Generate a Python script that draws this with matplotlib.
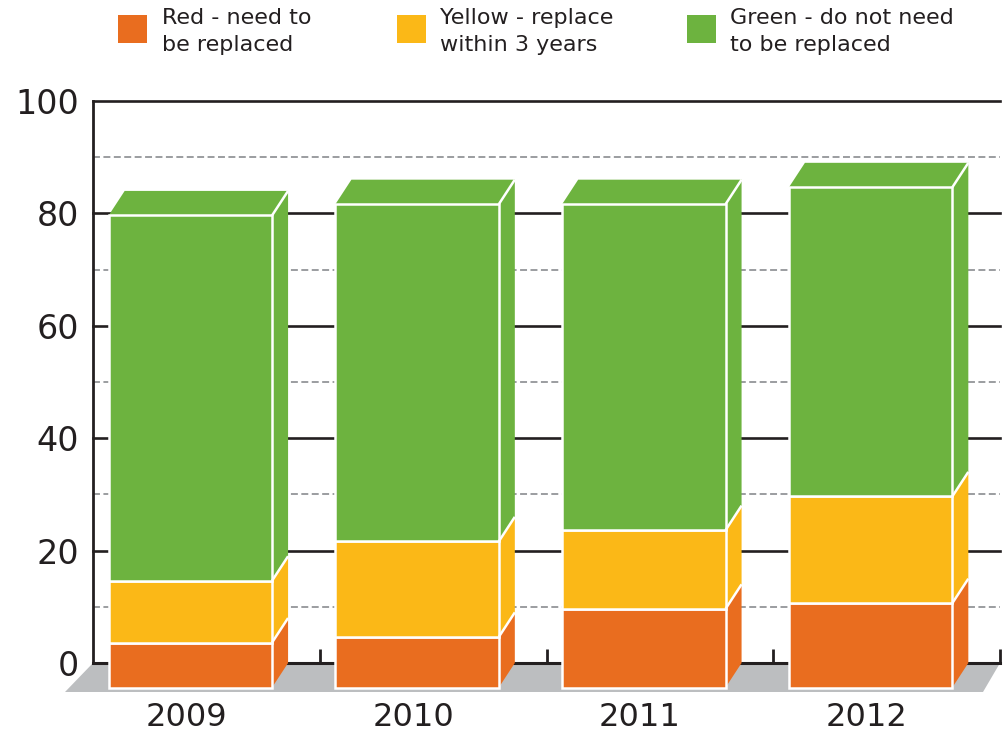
import matplotlib
matplotlib.use("Agg")
import matplotlib.pyplot as plt
from matplotlib.patches import Polygon, Rectangle
import numpy as np

plt.rcParams['font.family'] = ['DejaVu Sans']
plt.rcParams['lines.scale_dashes'] = False

# data
years = ["2009", "2010", "2011", "2012"]
red = [8, 9, 14, 15]
yellow = [11, 17, 14, 19]
green = [65, 60, 58, 55]
series_labels = ["Red - need to\nbe replaced",
                 "Yellow - replace\nwithin 3 years",
                 "Green - do not need\nto be replaced"]

colors = ["#E96D1F", "#FBB817", "#6DB33F"]
text_col = "#231F20"
floor_col = "#BCBEC0"
grid_dash = "#939598"

W, H = 1008, 734
fig = plt.figure(figsize=(W / 100, H / 100), dpi=100)

# axes placed so that the back wall spans x 93..1000 px, y 0 -> 663 px, 100 -> 101 px
x0_px, x1_px = 93, 1000
y0_px, y100_px = 663, 101
ax = fig.add_axes([x0_px / W, (H - y0_px) / H, (x1_px - x0_px) / W, (y0_px - y100_px) / H])
ax.set_xlim(-0.5, len(years) - 0.5)
ax.set_ylim(0, 100)

px_x = (len(years)) / (x1_px - x0_px)   # data units per px (x)
px_y = 100 / (y0_px - y100_px)          # data units per px (y)

dxu = 16 * px_x      # depth offset
dyu = 24.5 * px_y
bar_w = 163.4 * px_x

# back wall grid
for v in range(10, 100, 20):
    ax.axhline(v, color=grid_dash, lw=1.3, dashes=(5, 2.5), zorder=1, clip_on=False)
for v in range(20, 101, 20):
    ax.axhline(v, color=text_col, lw=1.9, zorder=1, clip_on=False)

# floor
fl_y = -29 * px_y
floor = Polygon([(-0.5, 0), (len(years) - 0.5, 0),
                 (len(years) - 0.5 - 17 * px_x, fl_y), (-0.5 - 28 * px_x, fl_y)],
                closed=True, facecolor=floor_col, edgecolor='none', zorder=2, clip_on=False)
ax.add_patch(floor)

# zero line + category separators
ax.axhline(0, color=text_col, lw=2.2, zorder=3, clip_on=False)
ax.vlines(np.arange(len(years)) + 0.5, 0, 14 * px_y, color=text_col, lw=2.0, zorder=3, clip_on=False)

ax.spines['top'].set_visible(False)
ax.spines['right'].set_visible(False)
ax.spines['bottom'].set_visible(False)
ax.spines['left'].set_linewidth(2.0)
ax.spines['left'].set_color(text_col)
ax.spines['left'].set_zorder(3)

# bars
xs = np.arange(len(years))
front_x = xs - dxu
bottoms = np.zeros(len(years)) - dyu
stack = [red, yellow, green]
for si, vals in enumerate(stack):
    vals = np.array(vals, dtype=float)
    for i in range(len(years)):
        xr = front_x[i] + bar_w / 2
        b = bottoms[i]
        t = b + vals[i]
        side = Polygon([(xr, b), (xr + dxu, b + dyu), (xr + dxu, t + dyu), (xr, t)],
                       closed=True, facecolor=colors[si], edgecolor='none', zorder=4, clip_on=False)
        ax.add_patch(side)
        if si > 0:
            ax.plot([xr, xr + dxu], [b, b + dyu], color='white', lw=1.8, zorder=6,
                    solid_capstyle='butt', clip_on=False)
        if si == len(stack) - 1:
            xl = front_x[i] - bar_w / 2
            top = Polygon([(xl, t), (xl + dxu, t + dyu), (xr + dxu, t + dyu), (xr, t)],
                          closed=True, facecolor=colors[si], edgecolor='none', zorder=4, clip_on=False)
            ax.add_patch(top)
            ax.plot([xr, xr + dxu], [t, t + dyu], color='white', lw=1.8, zorder=6,
                    solid_capstyle='butt', clip_on=False)
    ax.bar(front_x, vals, width=bar_w, bottom=bottoms, color=colors[si],
           edgecolor='white', linewidth=1.8, zorder=5, clip_on=False)
    bottoms = bottoms + vals

# ticks
ax.set_yticks(range(0, 101, 20))
ax.set_yticklabels([str(v) for v in range(0, 101, 20)], fontsize=24, color=text_col)
ax.tick_params(axis='y', length=0, pad=10)
ax.set_xticks(front_x - 4 * px_x)
ax.set_xticklabels(years, fontsize=23, color=text_col)
ax.tick_params(axis='x', length=0, pad=28)

# legend
leg_sq_x = [118, 397, 687]
leg_txt_x = [162, 440, 730]
for k in range(3):
    fig.add_artist(Rectangle((leg_sq_x[k] / W, 1 - 43 / H), 29 / W, 28 / H,
                             transform=fig.transFigure, facecolor=colors[k], edgecolor='none'))
    fig.text(leg_txt_x[k] / W, 1 - 8 / H, series_labels[k], fontsize=16, color=text_col,
             ha='left', va='top', linespacing=1.45)

fig.savefig("out.png", dpi=100)
